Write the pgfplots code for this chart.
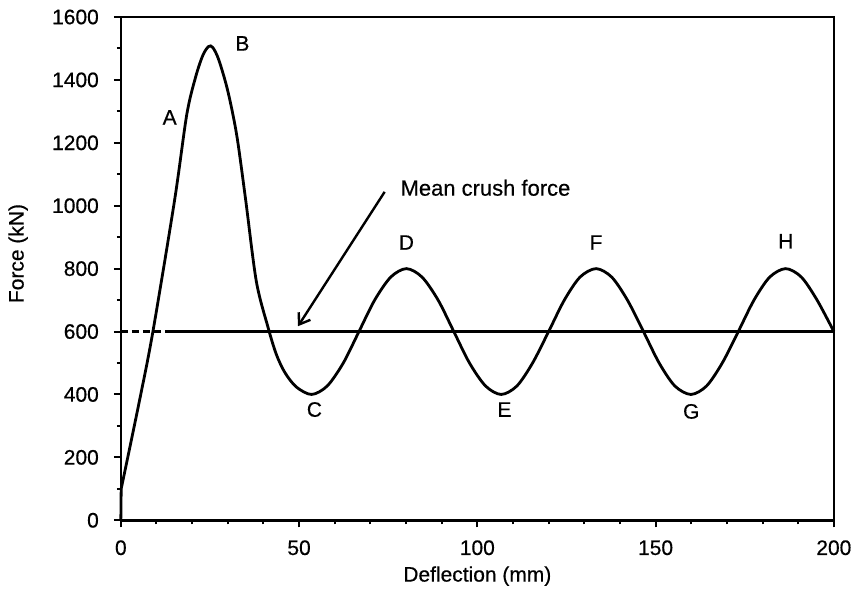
\documentclass[border=0pt]{standalone}
\usepackage{pgfplots}
\pgfplotsset{compat=1.18}
\usepackage{fontspec}
\setmainfont{Liberation Sans}[FakeBold=0.5]
\usetikzlibrary{arrows.meta}

\begin{document}
\begin{tikzpicture}
\begin{axis}[
  scale only axis,
  width=357pt, height=252pt,
  xmin=0, xmax=200, ymin=0, ymax=1600,
  xtick={0,50,100,150,200},
  ytick={0,200,...,1600},
  minor x tick num=4,
  minor y tick num=1,
  tick pos=left,
  tick align=outside,
  major tick length=3.5pt,
  minor tick length=2pt,
  every tick/.style={black, line width=1pt},
  axis line style={line width=1.3pt},
  /pgf/number format/assume math mode=true,
  /pgf/number format/1000 sep={},
  tick label style={font=\fontsize{10.5}{12}\selectfont},
  xticklabel style={yshift=-3pt},
  yticklabel style={xshift=-4pt},
  xlabel={Deflection (mm)},
  ylabel={Force (kN)},
  label style={font=\fontsize{10.5}{12}\selectfont},
  xlabel style={at={(axis description cs:0.5,-0.111)}, anchor=center},
  ylabel style={at={(axis description cs:-0.144,0.53)}, anchor=center},
  clip=false,
]
% mean crush force level
\addplot[black, line width=1.1pt, dash pattern=on 3.5pt off 2pt] coordinates {(0,600) (13,600)};
\addplot[black, line width=1.1pt] coordinates {(13,600) (200,600)};

% force-deflection response: initial peak followed by progressive folding
\addplot[black, line width=1.4pt] coordinates {(0,0) (0.1,100)};
\addplot[black, line width=1.4pt, smooth, tension=0.5] coordinates {
  (0.1,100) (5.3,384) (9,600) (15.1,1019) (18.5,1290) (21,1410)
  (23,1478) (24.6,1506) (25.8,1503) (27.5,1463) (30,1365) (32.5,1225)
  (35,1020) (38,760) (41.3,613) (43.6,528) (46,470) (49.2,424) (53.5,400)
  (57.9,427) (62.4,500) (66.8,600) (71.2,700) (75.7,773) (80.1,800)
  (84.5,773) (89.0,700) (93.4,600) (97.8,500) (102.3,427) (106.7,400)
  (111.1,427) (115.5,500) (120.0,600) (124.4,700) (128.8,773) (133.3,800)
  (137.7,773) (142.1,700) (146.6,600) (151.0,500) (155.4,427) (159.9,400)
  (164.3,427) (168.7,500) (173.2,600) (177.6,700) (182.0,773) (186.5,800)
  (190.9,773) (195.3,700) (200,600)
};

\begin{scope}[font=\fontsize{10.5}{12}\selectfont]
\node at (axis cs:13.7,1281) {A};
\node at (axis cs:34.1,1516) {B};
\node at (axis cs:54.3,352) {C};
\node at (axis cs:80.1,883) {D};
\node at (axis cs:107.6,352) {E};
\node at (axis cs:133.3,883) {F};
\node at (axis cs:160,346) {G};
\node at (axis cs:186.5,887) {H};
\node[anchor=west, font=\fontsize{11}{13}\selectfont] at (axis cs:76.5,1057) {Mean crush force};
\end{scope}
\draw[black, line width=1.2pt, -{Straight Barb[length=5pt,width=7pt,line width=1.2pt]}]
  (axis cs:74,1044) -- (axis cs:49.7,617);
\end{axis}
\path ([shift={(-60.5pt,-35pt)}]current axis.south west) rectangle ([shift={(11.5pt,8.5pt)}]current axis.north east);
\end{tikzpicture}
\end{document}
